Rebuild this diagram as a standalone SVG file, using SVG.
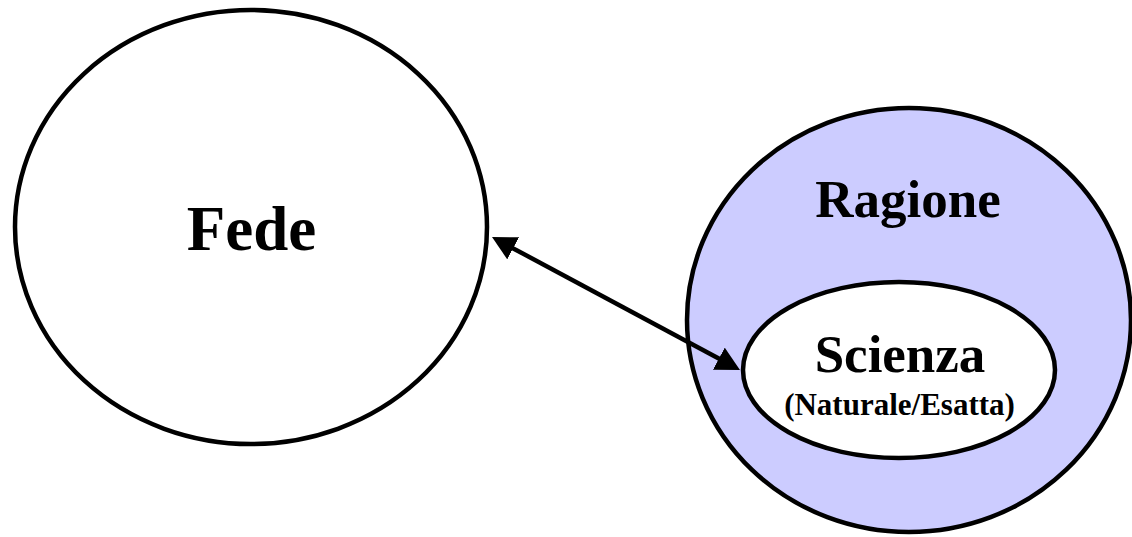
<svg xmlns="http://www.w3.org/2000/svg" width="1132" height="537" viewBox="0 0 1132 537">
<style>
.shape{stroke:#000;stroke-width:4.5}
.lbl{font-family:"Liberation Serif","Times New Roman",serif;font-weight:bold;fill:#000;text-anchor:middle}
.conn{stroke:#000;stroke-width:4.5;fill:none}
</style>
<defs>
<marker id="ah" markerUnits="userSpaceOnUse" markerWidth="26" markerHeight="26" viewBox="0 0 26 26" refX="2" refY="12.5" orient="auto-start-reverse">
<path d="M0,0 L24,12.5 L0,25 z" fill="#000"/>
</marker>
</defs>
<rect width="1132" height="537" fill="#fff"/>
<g id="fede">
<ellipse class="shape" cx="251" cy="227" rx="236" ry="217" fill="#fff"/>
<text class="lbl" x="251.5" y="250" font-size="63">Fede</text>
</g>
<g id="ragione">
<ellipse class="shape" cx="909" cy="320" rx="222" ry="212" fill="#CCCCFF"/>
<text class="lbl" x="908" y="217" font-size="53">Ragione</text>
</g>
<g id="scienza">
<ellipse class="shape" cx="899" cy="370" rx="156" ry="88" fill="#fff"/>
<text class="lbl" x="900" y="372" font-size="53">Scienza</text>
<text class="lbl" x="899.5" y="415" font-size="31">(Naturale/Esatta)</text>
</g>
<g id="connectors">
<line class="conn" x1="511.4" y1="247.4" x2="720.6" y2="359.6" marker-start="url(#ah)" marker-end="url(#ah)"/>
</g>
</svg>
